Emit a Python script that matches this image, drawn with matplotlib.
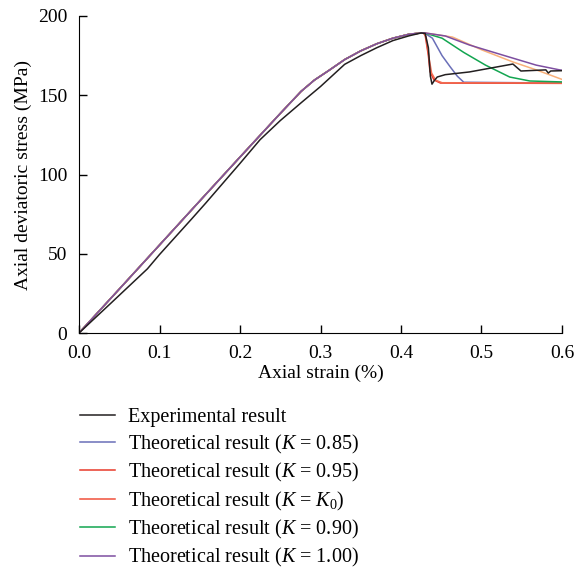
import numpy as np
import matplotlib
matplotlib.use("Agg")
from matplotlib import pyplot as plt
from matplotlib.lines import Line2D

# experimental curve
exp_strain = [0, 0.04, 0.085, 0.10, 0.14, 0.1575, 0.20, 0.225, 0.25, 0.2765, 0.30, 0.3075,
              0.33, 0.35, 0.37, 0.39, 0.41, 0.425, 0.430, 0.434, 0.4365, 0.4385,
              0.441, 0.445, 0.455, 0.485, 0.539, 0.549, 0.58, 0.583, 0.586, 0.60]
exp_stress = [0, 19, 40.5, 49.5, 72, 82, 107, 122, 134, 145.5, 155.5, 159,
              169.5, 175, 180, 184.5, 187.5, 189.3, 189, 180, 162, 157,
              159, 161.5, 163, 164.7, 169.7, 165.3, 166, 164, 165.3, 165.5]

# theoretical pre-peak branch (shared by all K)
rise_strain = [0, 0.05, 0.10, 0.15, 0.20, 0.25, 0.276, 0.2925, 0.31, 0.33,
               0.35, 0.37, 0.39, 0.41, 0.425]
rise_stress = [0, 27.7, 55.5, 83.3, 111, 138.5, 152.5, 159.6, 165.5, 172.5,
               178, 182.5, 186, 188.5, 189.3]

# post-peak branches
k085_strain = [0.43, 0.439, 0.451, 0.461, 0.470, 0.478, 0.60]
k085_stress = [189.0, 186, 175, 168, 162, 158.2, 157.7]

k095_strain = [0.428, 0.43, 0.434, 0.436, 0.441, 0.449, 0.60]
k095_stress = [189.2, 188, 175, 165, 159.6, 157.7, 157.5]

k0_strain = [0.428, 0.431, 0.435, 0.438, 0.443, 0.451, 0.60]
k0_stress = [189.2, 187, 173, 164, 159.5, 157.9, 157.7]

k090_strain = [0.43, 0.451, 0.478, 0.505, 0.535, 0.56, 0.60]
k090_stress = [189.2, 186, 177, 169, 161.5, 159, 158.4]

korange_strain = [0.43, 0.464, 0.501, 0.539, 0.568, 0.60]
korange_stress = [189.3, 186.7, 178.5, 171, 166, 160]

k100_strain = [0.43, 0.455, 0.485, 0.526, 0.568, 0.597, 0.60]
k100_stress = [189.3, 187.4, 181.7, 175.4, 169, 166, 165.8]

legend_labels = ["Experimental result",
                 "Theoretical result ($K$ = 0.85)",
                 "Theoretical result ($K$ = 0.95)",
                 "Theoretical result ($K$ = $K_0$)",
                 "Theoretical result ($K$ = 0.90)",
                 "Theoretical result ($K$ = 1.00)"]

plt.rcParams['font.family'] = ['Liberation Serif', 'DejaVu Serif']
plt.rcParams['mathtext.fontset'] = 'custom'
plt.rcParams['mathtext.it'] = 'Liberation Serif:italic'
plt.rcParams['mathtext.rm'] = 'Liberation Serif'
plt.rcParams['font.size'] = 14

fig = plt.figure(figsize=(5.76, 5.69), dpi=100)
ax = fig.add_axes([79 / 576, 1 - 333 / 569, (562 - 79) / 576, (333 - 16) / 569])


def branch(s, t):
    return np.r_[rise_strain, s], np.r_[rise_stress, t]


lw = 1.1
l085, = ax.plot(*branch(k085_strain, k085_stress), color="#6a6fb8", lw=lw)
l095, = ax.plot(*branch(k095_strain, k095_stress), color="#e8392a", lw=lw)
l0, = ax.plot(*branch(k0_strain, k0_stress), color="#f26a50", lw=lw)
l090, = ax.plot(*branch(k090_strain, k090_stress), color="#12a550", lw=lw)
ax.plot(*branch(korange_strain, korange_stress), color="#f8b07a", lw=lw)
l100, = ax.plot(*branch(k100_strain, k100_stress), color="#7d4ea0", lw=lw)
lexp, = ax.plot(exp_strain, exp_stress, color="#231f20", lw=lw)

ax.set_xlim(0, 0.6)
ax.set_ylim(0, 200)
ax.set_xticks(np.arange(0, 0.61, 0.1))
ax.set_xticklabels([f"{v:.1f}" for v in np.arange(0, 0.61, 0.1)])
ax.set_yticks([0, 50, 100, 150, 200])
ax.spines["top"].set_visible(False)
ax.spines["right"].set_visible(False)
ax.tick_params(direction="in", length=6, width=1, pad=8.5)
ax.set_xlabel("Axial strain (%)", labelpad=2)
ax.set_ylabel("Axial deviatoric stress (MPa)", labelpad=4)

handles = [lexp, l085, l095, Line2D([], [], color="#f0503a", lw=lw), l090, l100]
fig.legend(handles, legend_labels, loc="upper left", bbox_to_anchor=(80 / 576, 1 - 408 / 569),
           frameon=False, handlelength=1.75, handletextpad=0.65, labelspacing=0.27,
           borderpad=0, borderaxespad=0, fontsize=14.5)

fig.savefig("out.png", dpi=100)
